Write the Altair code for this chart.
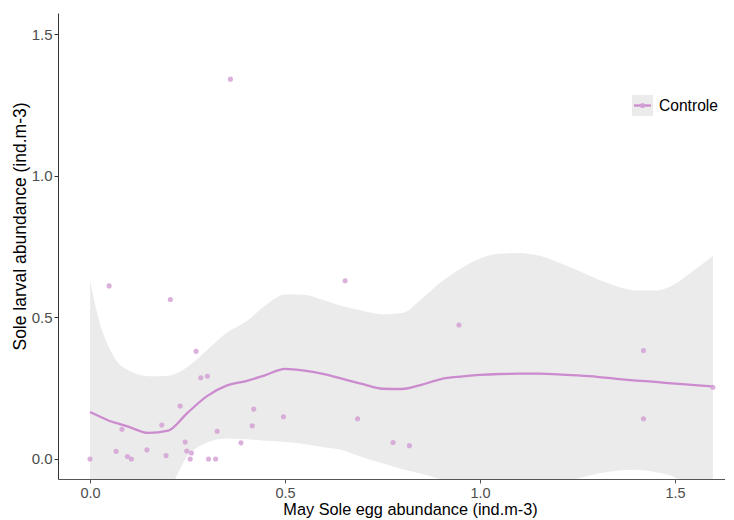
import altair as alt
import pandas as pd

# ---- data ----
series_name = "Controle"

egg_x = [0.0, 0.049, 0.206, 0.272, 0.284, 0.301, 0.231, 0.420, 0.496, 0.416,
         0.082, 0.184, 0.326, 0.244, 0.387, 0.067, 0.146, 0.248, 0.260, 0.195,
         0.096, 0.106, 0.257, 0.304, 0.322, 0.654, 0.946, 1.419, 1.597, 0.686,
         1.419, 0.777, 0.819, 0.360]
larva_y = [0.0, 0.611, 0.563, 0.380, 0.287, 0.292, 0.187, 0.176, 0.149, 0.117,
           0.105, 0.120, 0.098, 0.060, 0.057, 0.027, 0.032, 0.028, 0.021, 0.012,
           0.009, 0.0, 0.0, 0.0, 0.0, 0.629, 0.473, 0.383, 0.253, 0.142,
           0.142, 0.058, 0.047, 1.341]

grid_x = [0.0, 0.025, 0.05, 0.075, 0.1, 0.15, 0.2, 0.25, 0.3, 0.35, 0.4, 0.45,
          0.5, 0.55, 0.6, 0.65, 0.7, 0.75, 0.8, 0.85, 0.9, 0.95, 1.0, 1.05,
          1.1, 1.15, 1.2, 1.25, 1.3, 1.35, 1.4, 1.45, 1.5, 1.55, 1.597]
fit_y = [0.166, 0.150, 0.134, 0.124, 0.113, 0.092, 0.100, 0.163, 0.222, 0.259,
         0.275, 0.296, 0.318, 0.312, 0.300, 0.282, 0.264, 0.248, 0.247, 0.262,
         0.282, 0.291, 0.297, 0.300, 0.301, 0.301, 0.299, 0.295, 0.290, 0.283,
         0.277, 0.272, 0.266, 0.261, 0.256]
ci_hi = [0.629, 0.480, 0.390, 0.335, 0.312, 0.292, 0.294, 0.325, 0.385, 0.445,
         0.485, 0.543, 0.581, 0.580, 0.560, 0.538, 0.523, 0.510, 0.515, 0.565,
         0.625, 0.672, 0.708, 0.725, 0.727, 0.718, 0.695, 0.666, 0.635, 0.610,
         0.595, 0.595, 0.618, 0.668, 0.717]
ci_lo = [-0.297, -0.180, -0.120, -0.090, -0.090, -0.110, -0.100, 0.010, 0.058,
         0.072, 0.070, 0.064, 0.060, 0.053, 0.041, 0.030, 0.005, -0.015, -0.036,
         -0.052, -0.072, -0.090, -0.110, -0.125, -0.125, -0.115, -0.095, -0.070,
         -0.052, -0.042, -0.038, -0.047, -0.065, -0.140, -0.200]

x_ticks = [0.0, 0.5, 1.0, 1.5]
y_ticks = [0.0, 0.5, 1.0, 1.5]

pts_df = pd.DataFrame({"x": egg_x, "y": larva_y, "grp": series_name})
fit_df = pd.DataFrame({"x": grid_x, "fit": fit_y, "lo": ci_lo, "hi": ci_hi, "grp": series_name})
leg_df = pd.DataFrame({"grp": [series_name]})

FONT = "Liberation Sans"
LINE_COL = "#CC8BCE"
PT_COL = "#D39CD3"
BAND_COL = "#EBEBEB"

x_scale = alt.Scale(domain=[-0.082, 1.628], nice=False, zero=False)
y_scale = alt.Scale(domain=[-0.0707, 1.5746], nice=False, zero=False)

x_axis = alt.Axis(values=x_ticks, format=".1f", title="May Sole egg abundance (ind.m-3)",
                  grid=False, domainColor="#555555", domainWidth=1, tickColor="#555555",
                  tickSize=4, labelPadding=3, labelFont=FONT, labelFontSize=14.5,
                  labelColor="#4D4D4D", labelOverlap=False, labelFlush=False,
                  titleFont=FONT, titleFontSize=16.3, titleFontWeight="normal",
                  titleColor="#000000", titleX=352, titleY=30.5, titleAlign="center",
                  titleBaseline="middle")
y_axis = alt.Axis(values=y_ticks, format=".1f", title="Sole larval abundance (ind.m-3)",
                  grid=False, domainColor="#333333", domainWidth=1, tickColor="#333333",
                  tickSize=4, labelPadding=2, labelFont=FONT, labelFontSize=15,
                  labelColor="#4D4D4D", labelOverlap=False, labelFlush=False,
                  titleFont=FONT, titleFontSize=17.5, titleFontWeight="normal",
                  titleColor="#000000", titleX=-38, titleY=213, titleAlign="center",
                  titleBaseline="middle", titleAngle=270)

X = alt.X("x:Q", scale=x_scale, axis=x_axis)

band = alt.Chart(fit_df).mark_area(color=BAND_COL, clip=True, opacity=1,
                                   interpolate="monotone").encode(
    x=X, y=alt.Y("lo:Q", scale=y_scale, axis=y_axis), y2="hi:Q")

line = alt.Chart(fit_df).mark_line(color=LINE_COL, strokeWidth=2.3, clip=True,
                                   interpolate="monotone").encode(
    x=alt.X("x:Q", scale=x_scale), y=alt.Y("fit:Q", scale=y_scale))

points = alt.Chart(pts_df).mark_circle(color=PT_COL, opacity=0.8, size=26, clip=True).encode(
    x=alt.X("x:Q", scale=x_scale), y=alt.Y("y:Q", scale=y_scale))

# manual legend (ggplot-style key with grey background)
leg_box = alt.Chart(leg_df).mark_rect(color=BAND_COL).encode(
    x=alt.value(574), x2=alt.value(595), y=alt.value(82), y2=alt.value(103))
leg_line = alt.Chart(leg_df).mark_rule(color=LINE_COL, strokeWidth=2.3).encode(
    x=alt.value(576), x2=alt.value(593), y=alt.value(92.5))
leg_pt = alt.Chart(leg_df).mark_circle(color=PT_COL, opacity=0.9, size=26).encode(
    x=alt.value(584.5), y=alt.value(92.5))
leg_txt = alt.Chart(leg_df).mark_text(align="left", baseline="middle", font=FONT,
                                      fontSize=15.6, color="#000000").encode(
    x=alt.value(601), y=alt.value(93), text="grp:N")

chart = alt.layer(band, line, points, leg_box, leg_line, leg_pt, leg_txt).properties(
    width=667, height=466,
    autosize=alt.AutoSizeParams(type="none"),
    padding={"left": 50, "top": 5, "right": 0, "bottom": 40},
    background="#FFFFFF",
).configure_view(stroke=None)

chart.save("out.html", embed_options={"renderer": "svg", "actions": False})
